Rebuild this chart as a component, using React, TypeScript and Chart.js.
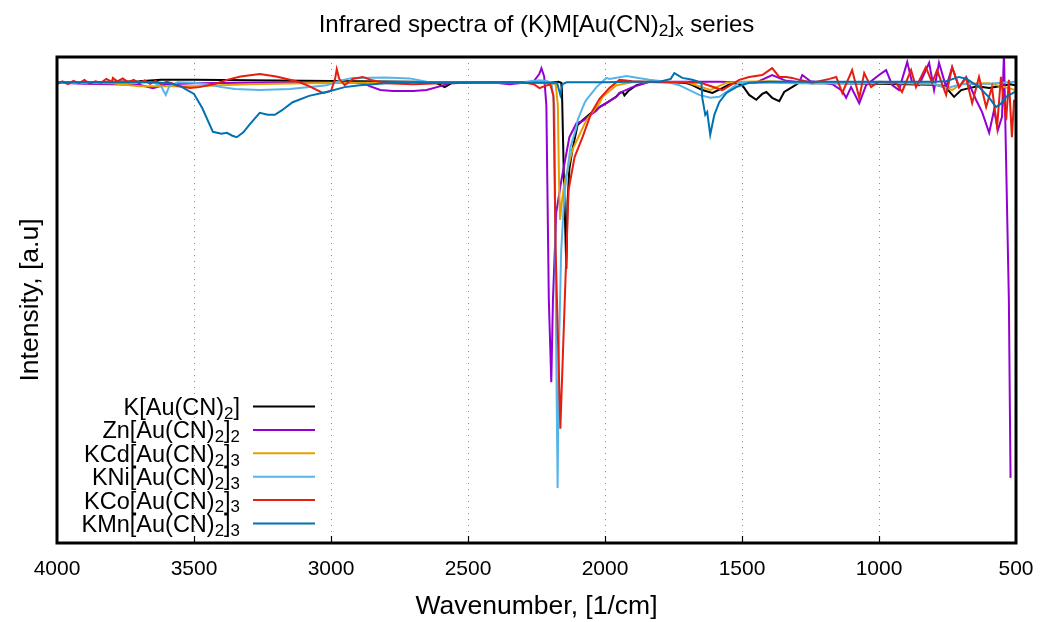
import React, { useEffect, useRef } from "react";
import { Chart, registerables } from "chart.js";

Chart.register(...registerables);

const FONT = '"Liberation Sans", Arial, Helvetica, sans-serif';

const titleText = "Infrared spectra of (K)M[Au(CN)_{2}]_{x} series";
const xAxisTitle = "Wavenumber, [1/cm]";
const yAxisTitle = "Intensity, [a.u]";
const xTickValues = [4000, 3500, 3000, 2500, 2000, 1500, 1000, 500];

const seriesNames = [
  "K[Au(CN)_{2}]",
  "Zn[Au(CN)_{2}]_{2}",
  "KCd[Au(CN)_{2}]_{3}",
  "KNi[Au(CN)_{2}]_{3}",
  "KCo[Au(CN)_{2}]_{3}",
  "KMn[Au(CN)_{2}]_{3}",
];
const seriesColors = ["#000000", "#9400d3", "#e69f00", "#56b4e9", "#e51e10", "#0072b2"];

// K[Au(CN)2]
const wnK = [4000, 3900, 3800, 3700, 3620, 3500, 3300, 3100, 2900, 2700, 2620, 2585, 2560, 2450, 2300, 2200, 2170, 2160, 2157, 2150, 2141, 2137, 2130, 2119, 2100, 2082, 2050, 2020, 1995, 1960, 1947, 1935, 1929, 1915, 1885, 1838, 1750, 1700, 1681, 1645, 1608, 1572, 1535, 1499, 1474, 1448, 1426, 1411, 1390, 1364, 1346, 1317, 1291, 1244, 1150, 1000, 900, 800, 760, 726, 700, 671, 640, 598, 560, 520, 504];
const intK = [0.948, 0.947, 0.949, 0.95, 0.953, 0.953, 0.952, 0.951, 0.95, 0.949, 0.948, 0.938, 0.946, 0.948, 0.948, 0.947, 0.949, 0.947, 0.93, 0.75, 0.564, 0.7, 0.77, 0.809, 0.86, 0.87, 0.885, 0.897, 0.905, 0.918, 0.926, 0.928, 0.921, 0.93, 0.942, 0.949, 0.948, 0.946, 0.942, 0.932, 0.926, 0.936, 0.947, 0.942, 0.922, 0.912, 0.924, 0.928, 0.916, 0.909, 0.928, 0.938, 0.947, 0.946, 0.946, 0.945, 0.944, 0.943, 0.94, 0.918, 0.932, 0.936, 0.94, 0.936, 0.94, 0.944, 0.942];

// Zn[Au(CN)2]2
const wnZn = [4000, 3900, 3800, 3700, 3650, 3600, 3500, 3300, 3100, 2950, 2880, 2859, 2820, 2775, 2700, 2651, 2600, 2556, 2400, 2348, 2300, 2260, 2240, 2232, 2222, 2214, 2205, 2196, 2190, 2178, 2159, 2130, 2104, 2082, 2031, 2020, 1958, 1947, 1900, 1838, 1700, 1583, 1450, 1390, 1339, 1291, 1280, 1250, 1218, 1170, 1134, 1120, 1102, 1072, 1047, 1000, 974, 952, 927, 897, 879, 854, 817, 799, 781, 755, 733, 708, 682, 646, 624, 598, 580, 566, 551, 544, 526, 520];
const intZn = [0.947, 0.945, 0.944, 0.943, 0.936, 0.944, 0.946, 0.947, 0.948, 0.948, 0.946, 0.94, 0.932, 0.93, 0.93, 0.932, 0.94, 0.948, 0.947, 0.944, 0.947, 0.95, 0.965, 0.977, 0.96, 0.9, 0.5, 0.331, 0.5, 0.68, 0.747, 0.835, 0.864, 0.868, 0.89, 0.897, 0.918, 0.926, 0.938, 0.949, 0.949, 0.949, 0.947, 0.963, 0.951, 0.948, 0.963, 0.95, 0.948, 0.944, 0.93, 0.916, 0.938, 0.905, 0.942, 0.963, 0.973, 0.942, 0.932, 0.99, 0.947, 0.942, 0.988, 0.932, 0.988, 0.938, 0.979, 0.938, 0.959, 0.912, 0.887, 0.844, 0.891, 0.85, 0.877, 1.01, 0.5, 0.134];

// KCd[Au(CN)2]3
const wnCd = [4000, 3800, 3700, 3600, 3500, 3400, 3300, 3100, 2900, 2700, 2500, 2300, 2200, 2180, 2172, 2168, 2164, 2158, 2148, 2140, 2119, 2068, 2020, 2009, 1958, 1900, 1700, 1616, 1557, 1500, 1400, 1300, 1100, 900, 800, 733, 700, 600, 520, 504];
const intCd = [0.947, 0.946, 0.94, 0.94, 0.94, 0.942, 0.944, 0.946, 0.947, 0.948, 0.948, 0.947, 0.946, 0.944, 0.9, 0.75, 0.665, 0.7, 0.741, 0.76, 0.809, 0.87, 0.905, 0.918, 0.942, 0.948, 0.948, 0.932, 0.947, 0.949, 0.95, 0.948, 0.947, 0.946, 0.945, 0.932, 0.945, 0.946, 0.935, 0.932];

// KNi[Au(CN)2]3
const wnNi = [4000, 3800, 3650, 3620, 3603, 3590, 3560, 3500, 3450, 3400, 3350, 3260, 3150, 3050, 3016, 2960, 2921, 2800, 2713, 2651, 2500, 2300, 2240, 2210, 2195, 2185, 2178, 2173, 2168, 2160, 2148, 2126, 2104, 2100, 2075, 2068, 2031, 1995, 1984, 1922, 1838, 1776, 1729, 1692, 1656, 1616, 1583, 1557, 1510, 1400, 1300, 1200, 1100, 1000, 900, 800, 755, 700, 600, 504];
const intNi = [0.948, 0.948, 0.948, 0.94, 0.922, 0.94, 0.948, 0.947, 0.944, 0.938, 0.934, 0.932, 0.934, 0.94, 0.942, 0.952, 0.957, 0.958, 0.956, 0.949, 0.948, 0.948, 0.952, 0.95, 0.945, 0.9, 0.4, 0.113, 0.4, 0.6, 0.72, 0.815, 0.856, 0.87, 0.905, 0.912, 0.938, 0.957, 0.955, 0.961, 0.953, 0.949, 0.942, 0.932, 0.922, 0.916, 0.918, 0.928, 0.947, 0.947, 0.946, 0.946, 0.946, 0.947, 0.946, 0.945, 0.936, 0.944, 0.945, 0.949];

// KCo[Au(CN)2]3
const wnCo = [4000, 3980, 3960, 3940, 3920, 3900, 3880, 3860, 3840, 3820, 3800, 3796, 3780, 3760, 3740, 3720, 3700, 3680, 3660, 3640, 3620, 3600, 3580, 3560, 3515, 3480, 3420, 3380, 3330, 3260, 3200, 3150, 3114, 3080, 3030, 3000, 2985, 2979, 2970, 2950, 2920, 2884, 2850, 2797, 2700, 2600, 2500, 2400, 2300, 2260, 2239, 2220, 2200, 2188, 2180, 2163, 2133, 2111, 2082, 2050, 2020, 1984, 1947, 1900, 1800, 1700, 1650, 1572, 1510, 1474, 1426, 1390, 1364, 1339, 1317, 1291, 1244, 1180, 1156, 1134, 1098, 1072, 1054, 1029, 1000, 938, 916, 883, 865, 829, 806, 788, 755, 733, 708, 682, 660, 635, 609, 588, 569, 555, 536, 526, 515, 507];
const intCo = [0.944, 0.95, 0.944, 0.951, 0.946, 0.953, 0.945, 0.95, 0.947, 0.955, 0.949, 0.957, 0.95, 0.956, 0.948, 0.953, 0.946, 0.952, 0.945, 0.951, 0.944, 0.949, 0.946, 0.94, 0.936, 0.938, 0.945, 0.953, 0.96, 0.965, 0.96, 0.953, 0.948, 0.94, 0.926, 0.93, 0.955, 0.975, 0.955, 0.942, 0.955, 0.959, 0.952, 0.946, 0.944, 0.946, 0.947, 0.948, 0.948, 0.944, 0.936, 0.94, 0.944, 0.92, 0.6, 0.235, 0.726, 0.794, 0.835, 0.885, 0.914, 0.936, 0.953, 0.95, 0.948, 0.948, 0.947, 0.932, 0.953, 0.959, 0.963, 0.977, 0.959, 0.959, 0.957, 0.953, 0.947, 0.955, 0.959, 0.926, 0.973, 0.916, 0.967, 0.938, 0.949, 0.947, 0.928, 0.973, 0.938, 0.979, 0.947, 0.973, 0.922, 0.979, 0.938, 0.957, 0.905, 0.959, 0.897, 0.938, 0.856, 0.959, 0.87, 0.953, 0.835, 0.912];

// KMn[Au(CN)2]3
const wnMn = [4000, 3800, 3650, 3588, 3550, 3500, 3470, 3431, 3400, 3380, 3360, 3344, 3320, 3296, 3260, 3231, 3205, 3180, 3140, 3080, 3016, 2950, 2895, 2775, 2700, 2500, 2300, 2200, 2175, 2163, 2155, 2140, 2000, 1900, 1800, 1760, 1747, 1718, 1681, 1648, 1645, 1634, 1627, 1616, 1601, 1583, 1557, 1521, 1474, 1400, 1200, 1000, 800, 755, 708, 680, 635, 600, 573, 555, 536, 504];
const intMn = [0.948, 0.948, 0.948, 0.946, 0.94, 0.924, 0.895, 0.846, 0.842, 0.844, 0.838, 0.835, 0.845, 0.862, 0.885, 0.881, 0.881, 0.89, 0.907, 0.92, 0.928, 0.938, 0.942, 0.947, 0.948, 0.948, 0.947, 0.947, 0.947, 0.922, 0.944, 0.948, 0.948, 0.949, 0.949, 0.955, 0.967, 0.957, 0.953, 0.947, 0.916, 0.881, 0.887, 0.84, 0.881, 0.907, 0.926, 0.938, 0.947, 0.949, 0.949, 0.949, 0.949, 0.95, 0.959, 0.955, 0.938, 0.918, 0.897, 0.904, 0.918, 0.928];

const seriesWn = [wnK, wnZn, wnCd, wnNi, wnCo, wnMn];
const seriesInt = [intK, intZn, intCd, intNi, intCo, intMn];

function parseRich(text: string) {
  const parts: { t: string; sub: boolean }[] = [];
  const re = /_\{([^}]*)\}/g;
  let last = 0;
  let m: RegExpExecArray | null;
  while ((m = re.exec(text))) {
    if (m.index > last) parts.push({ t: text.slice(last, m.index), sub: false });
    parts.push({ t: m[1], sub: true });
    last = m.index + m[0].length;
  }
  if (last < text.length) parts.push({ t: text.slice(last), sub: false });
  return parts;
}

function drawRich(ctx: CanvasRenderingContext2D, text: string, x: number, y: number, size: number, align: "left" | "right" | "center") {
  const parts = parseRich(text);
  const subSize = size * 0.72;
  const widths = parts.map((p) => {
    ctx.font = `${p.sub ? subSize : size}px ${FONT}`;
    return ctx.measureText(p.t).width;
  });
  const total = widths.reduce((a, b) => a + b, 0);
  let cx = align === "left" ? x : align === "right" ? x - total : x - total / 2;
  ctx.textAlign = "left";
  ctx.textBaseline = "alphabetic";
  parts.forEach((p, i) => {
    ctx.font = `${p.sub ? subSize : size}px ${FONT}`;
    ctx.fillText(p.t, cx, p.sub ? y + size * 0.16 : y);
    cx += widths[i];
  });
}

const decorPlugin = {
  id: "decor",
  beforeDatasetsDraw(chart: any) {
    const { ctx, chartArea: a, scales } = chart;
    const xs = scales.x;
    ctx.save();
    ctx.strokeStyle = "#8c8c8c";
    ctx.lineWidth = 1;
    ctx.setLineDash([1, 5]);
    for (const t of xTickValues) {
      if (t === 4000 || t === 500) continue;
      const px = Math.round(xs.getPixelForValue(t)) + 0.5;
      ctx.beginPath();
      ctx.moveTo(px, a.top);
      ctx.lineTo(px, a.bottom);
      ctx.stroke();
    }
    ctx.restore();
  },
  afterDraw(chart: any) {
    const { ctx, chartArea: a, scales } = chart;
    const xs = scales.x;
    ctx.save();
    ctx.strokeStyle = "#000";
    ctx.lineWidth = 3;
    ctx.strokeRect(a.left, a.top, a.right - a.left, a.bottom - a.top);
    ctx.lineWidth = 1.2;
    for (const t of xTickValues) {
      if (t === 4000 || t === 500) continue;
      const px = Math.round(xs.getPixelForValue(t)) + 0.5;
      ctx.beginPath();
      ctx.moveTo(px, a.bottom);
      ctx.lineTo(px, a.bottom - 7);
      ctx.stroke();
    }
    ctx.fillStyle = "#000";
    // tick labels
    ctx.font = `21px ${FONT}`;
    ctx.textAlign = "center";
    ctx.textBaseline = "alphabetic";
    for (const t of xTickValues) {
      ctx.fillText(String(t), xs.getPixelForValue(t), a.bottom + 32);
    }
    drawRich(ctx, titleText, (a.left + a.right) / 2, 32, 24, "center");
    drawRich(ctx, xAxisTitle, (a.left + a.right) / 2, 614, 26.5, "center");
    ctx.save();
    ctx.translate(38, (a.top + a.bottom) / 2);
    ctx.rotate(-Math.PI / 2);
    drawRich(ctx, yAxisTitle, 0, 0, 26.5, "center");
    ctx.restore();
    const rowY0 = 406.5;
    const rowStep = 23.4;
    seriesNames.forEach((name, i) => {
      const ly = rowY0 + i * rowStep;
      ctx.fillStyle = "#000";
      drawRich(ctx, name, 240, ly + 8.5, 23.5, "right");
      ctx.strokeStyle = seriesColors[i];
      ctx.lineWidth = 2;
      ctx.beginPath();
      ctx.moveTo(253, ly);
      ctx.lineTo(315, ly);
      ctx.stroke();
    });
    ctx.restore();
  },
};

export default function App() {
  const canvasRef = useRef<HTMLCanvasElement | null>(null);
  useEffect(() => {
    document.body.style.margin = "0";
    const canvas = canvasRef.current;
    if (!canvas) return;
    const datasets = seriesNames.map((name, i) => ({
      label: name,
      data: seriesWn[i].map((w, j) => ({ x: w, y: seriesInt[i][j] })),
      borderColor: seriesColors[i],
      backgroundColor: seriesColors[i],
      borderWidth: 2,
      pointRadius: 0,
      tension: 0,
      fill: false,
      order: seriesNames.length - i,
    }));
    const chart = new Chart(canvas, {
      type: "line",
      data: { datasets },
      options: {
        animation: false,
        responsive: false,
        devicePixelRatio: 1,
        layout: { padding: { top: 57, right: 26, bottom: 0, left: 0 } },
        plugins: { legend: { display: false }, tooltip: { enabled: false }, title: { display: false } },
        scales: {
          x: {
            type: "linear",
            reverse: true,
            min: 500,
            max: 4000,
            afterFit: (s: any) => {
              s.height = 79;
            },
            grid: { display: false, drawTicks: false },
            border: { display: false },
            ticks: { display: false, stepSize: 500 },
          },
          y: {
            type: "linear",
            min: 0,
            max: 1,
            afterFit: (s: any) => {
              s.width = 57;
            },
            grid: { display: false, drawTicks: false },
            border: { display: false },
            ticks: { display: false },
          },
        },
      },
      plugins: [decorPlugin],
    });
    return () => chart.destroy();
  }, []);
  return (
    <div style={{ width: 1042, height: 622 }}>
      <canvas ref={canvasRef} width={1042} height={622} />
    </div>
  );
}
